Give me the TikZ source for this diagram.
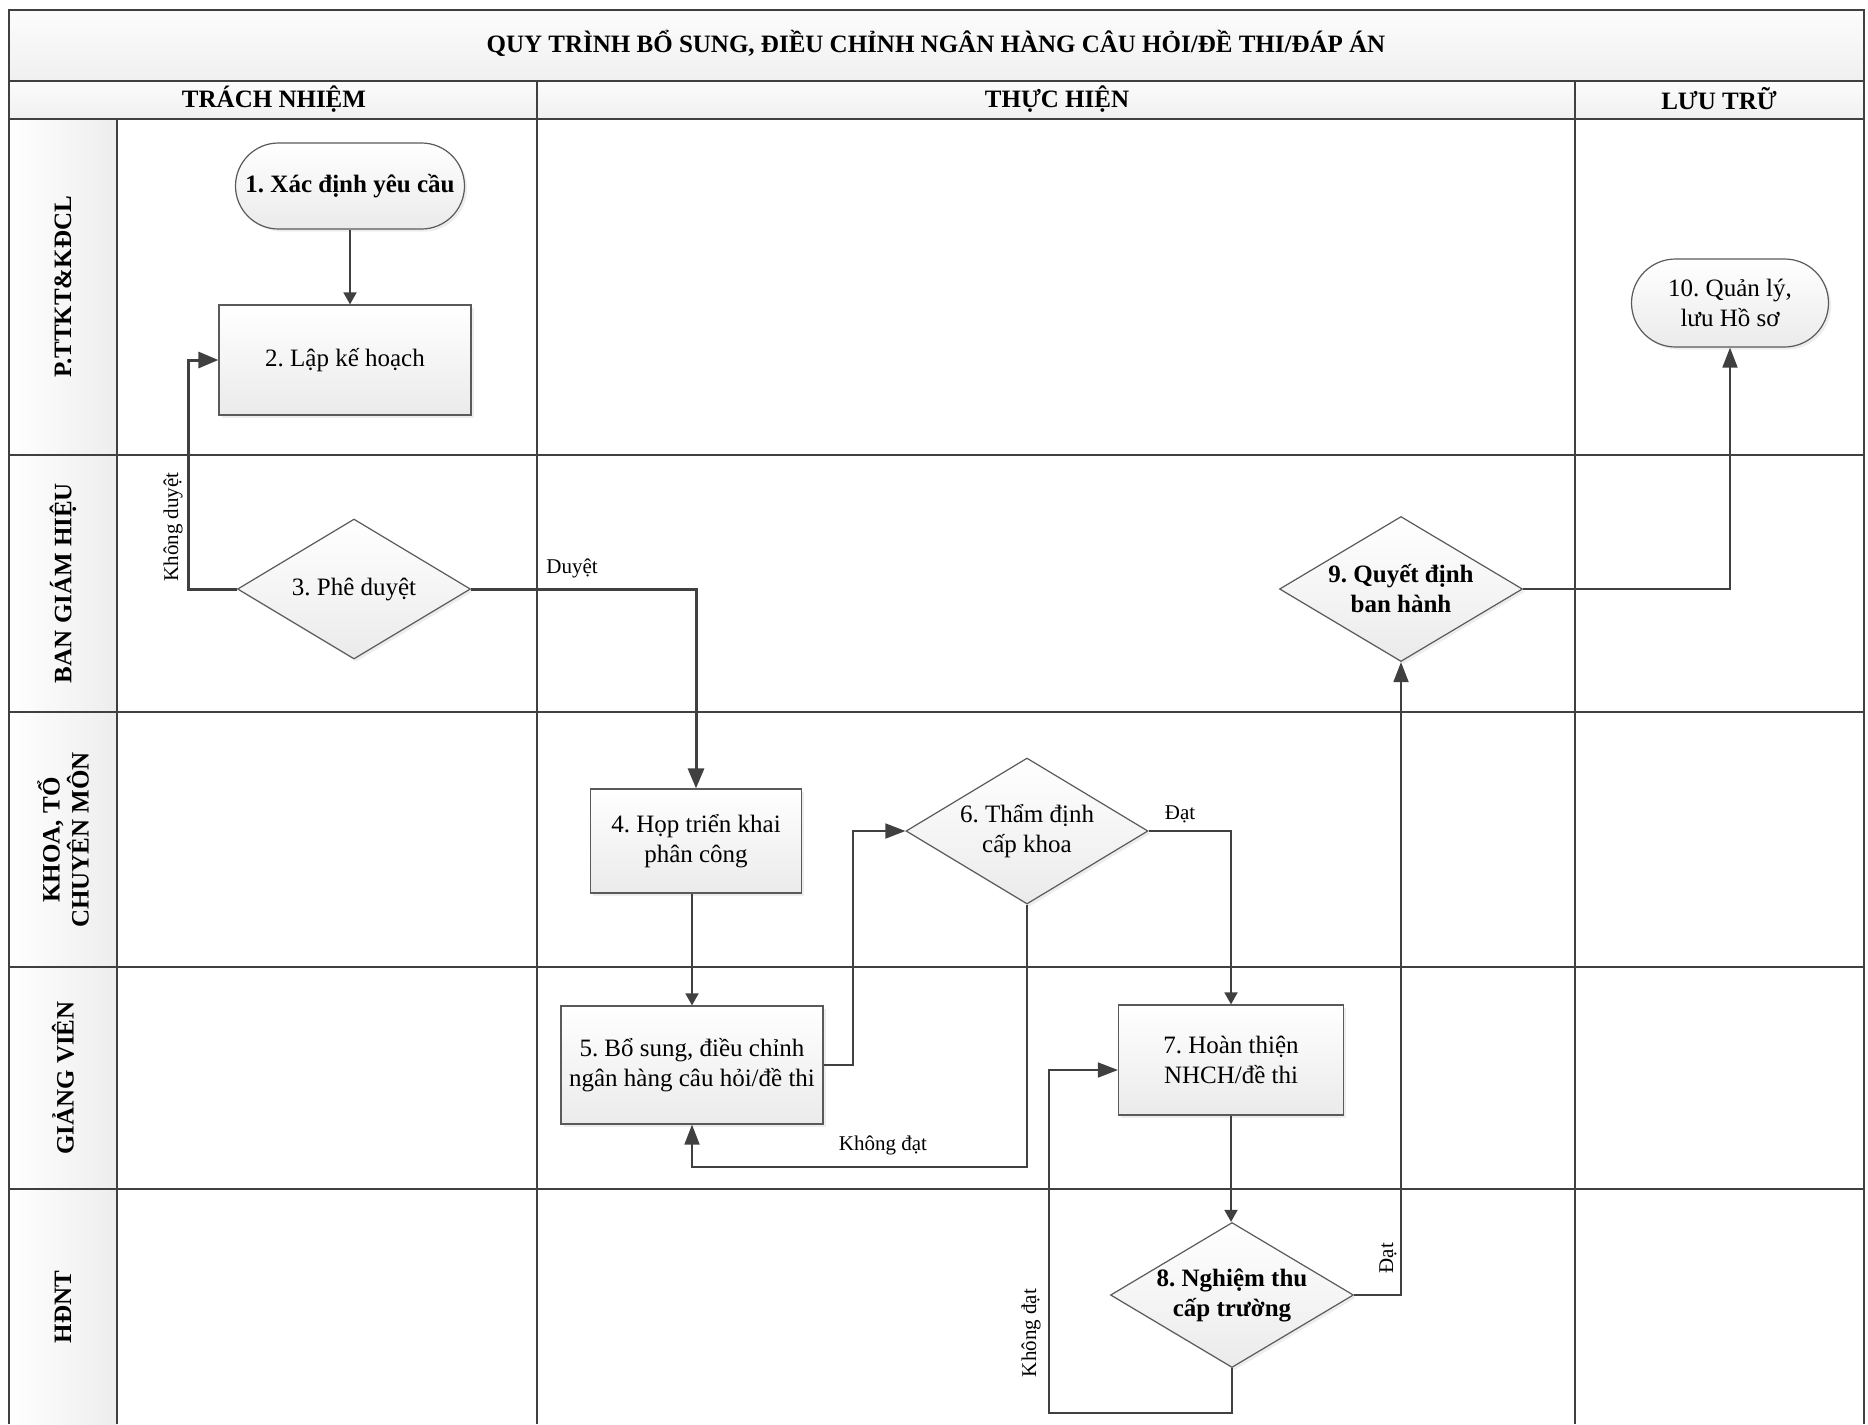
\documentclass[tikz,border=0pt]{standalone}
\usepackage{fontspec}
\setmainfont{Liberation Serif}
\usetikzlibrary{arrows.meta,shapes.geometric,shapes.misc,shadows,calc}
\definecolor{lineC}{HTML}{404040}
\definecolor{bordC}{HTML}{5A5A5A}
\frenchspacing
\begin{document}
\begin{tikzpicture}[x=0.5pt,y=-0.5pt,
  every node/.style={font=\fontsize{12.5}{15}\selectfont, text=black},
  box/.style={draw=bordC, line width=0.6pt, top color=white, bottom color=gray!16,
    drop shadow={shadow xshift=1.3pt,shadow yshift=-1.3pt,opacity=0.14},
    align=center, inner sep=0pt},
  proc/.style={box, rectangle},
  term/.style={box, rounded rectangle},
  decis/.style={box, diamond, aspect=1.68},
  boldtxt/.style={font=\bfseries\fontsize{12.5}{15}\selectfont},
  flow/.style={draw=lineC, line width=0.9pt, -{Triangle[length=6pt,width=6.5pt]}},
  bigflow/.style={draw=lineC, line width=0.9pt, -{Triangle[length=10pt,width=7.5pt]}},
  heavy/.style={draw=lineC, line width=1.5pt, -{Triangle[length=10pt,width=8pt]}},
  lbl/.style={font=\fontsize{10.5}{12}\selectfont, inner sep=0pt},
  lanelbl/.style={font=\bfseries\fontsize{12.5}{14.5}\selectfont, rotate=90, align=center},
  hdr/.style={font=\bfseries\fontsize{12.5}{15}\selectfont},
  hgrid/.style={draw=lineC, line width=1pt},
  vgrid/.style={draw=lineC, line width=0.7pt}
]
\useasboundingbox (0,0) rectangle (1868,1424);
% backgrounds
\path[top color=gray!2, bottom color=gray!12] (9,10) rectangle (1864,81);
\path[top color=gray!2, bottom color=gray!12] (9,81) rectangle (1864,119);
\path[left color=white, right color=gray!14] (9,119) rectangle (117,1424);
% grid
\draw[hgrid] (9,1424) -- (9,10) -- (1864,10) -- (1864,1424);
\draw[hgrid] (9,81) -- (1864,81);
\draw[hgrid] (9,119) -- (1864,119);
\draw[hgrid] (9,455) -- (1864,455);
\draw[hgrid] (9,712) -- (1864,712);
\draw[hgrid] (9,967) -- (1864,967);
\draw[hgrid] (9,1189) -- (1864,1189);
\draw[vgrid] (117,119) -- (117,1424);
\draw[vgrid] (537,81) -- (537,1424);
\draw[vgrid] (1575,81) -- (1575,1424);
% titles
\node[hdr] (title) at (936,43) {QUY TRÌNH BỔ SUNG, ĐIỀU CHỈNH NGÂN HÀNG CÂU HỎI/ĐỀ THI/ĐÁP ÁN};
\node[hdr] (h1) at (274,99) {TRÁCH NHIỆM};
\node[hdr] (h2) at (1057,99) {THỰC HIỆN};
\node[hdr] (h3) at (1719,99) {LƯU TRỮ};
% lane labels
\node[lanelbl] (l1) at (63,287) {P.TTKT\&KĐCL};
\node[lanelbl] (l2) at (63,583) {BAN GIÁM HIỆU};
\node[lanelbl] (l3) at (63,840) {KHOA, TỔ\\CHUYÊN MÔN};
\node[lanelbl] (l4) at (63,1078) {GIẢNG VIÊN};
\node[lanelbl] (l5) at (63,1307) {HĐNT};
% nodes
\node[term, boldtxt, minimum width=114.5pt, minimum height=43pt] (n1) at (350,186) {1. Xác định yêu cầu};
\node[proc, minimum width=126pt, minimum height=55pt] (n2) at (345,360) {2. Lập kế hoạch};
\node[decis, minimum width=116.5pt, minimum height=70pt] (n3) at (354,589) {3. Phê duyệt};
\node[proc, minimum width=105.5pt, minimum height=52pt] (n4) at (696,841) {4. Họp triển khai\\phân công};
\node[proc, minimum width=131pt, minimum height=59pt] (n5) at (692,1065) {5. Bổ sung, điều chỉnh\\ngân hàng câu hỏi/đề thi};
\node[decis, minimum width=121pt, minimum height=73pt] (n6) at (1027,831) {6. Thẩm định\\cấp khoa};
\node[proc, minimum width=112.5pt, minimum height=55pt] (n7) at (1231,1060) {7. Hoàn thiện\\NHCH/đề thi};
\node[decis, boldtxt, minimum width=121.5pt, minimum height=72.5pt] (n8) at (1232,1295) {8. Nghiệm thu\\cấp trường};
\node[decis, boldtxt, minimum width=121.5pt, minimum height=72.5pt] (n9) at (1401,589) {9. Quyết định\\ban hành};
\node[term, minimum width=98.5pt, minimum height=44pt] (n10) at (1730,303) {10. Quản lý,\\lưu Hồ sơ};
% connectors
\draw[flow] (n1.south) -- (n1.south |- n2.north);
\draw[heavy] (n3.west) -- ++(-48,0) |- (n2.west);
\node[lbl, rotate=90] (lkd) at (173,527) {Không duyệt};
\draw[heavy] (n3.east) -| (n4.north);
\node[lbl] (ld) at (572,568) {Duyệt};
\draw[flow] (n4.south -| n5.north) -- (n5.north);
\draw[bigflow] (n5.east) -- ++(29,0) |- (n6.west);
\draw[flow] (n6.east) -| (n7.north);
\node[lbl] (ld6) at (1180,814) {Đạt};
\draw[bigflow] (n6.south) -- ++(0,262) -| (n5.south);
\node[lbl] (lkd6) at (883,1145) {Không đạt};
\draw[flow] (n7.south) -- (n7.south |- n8.north);
\coordinate (r87) at ($(n7.west)+(-69,10)$);
\draw[bigflow] (n8.south) -- ++(0,45) -| (r87) -- (r87 -| n7.west);
\node[lbl, rotate=90] (lkd8) at (1031,1333) {Không đạt};
\draw[bigflow] (n8.east) -| (n9.south);
\node[lbl, rotate=90] (ld8) at (1388,1258) {Đạt};
\draw[bigflow] (n9.east) -| (n10.south);
\end{tikzpicture}
\end{document}
